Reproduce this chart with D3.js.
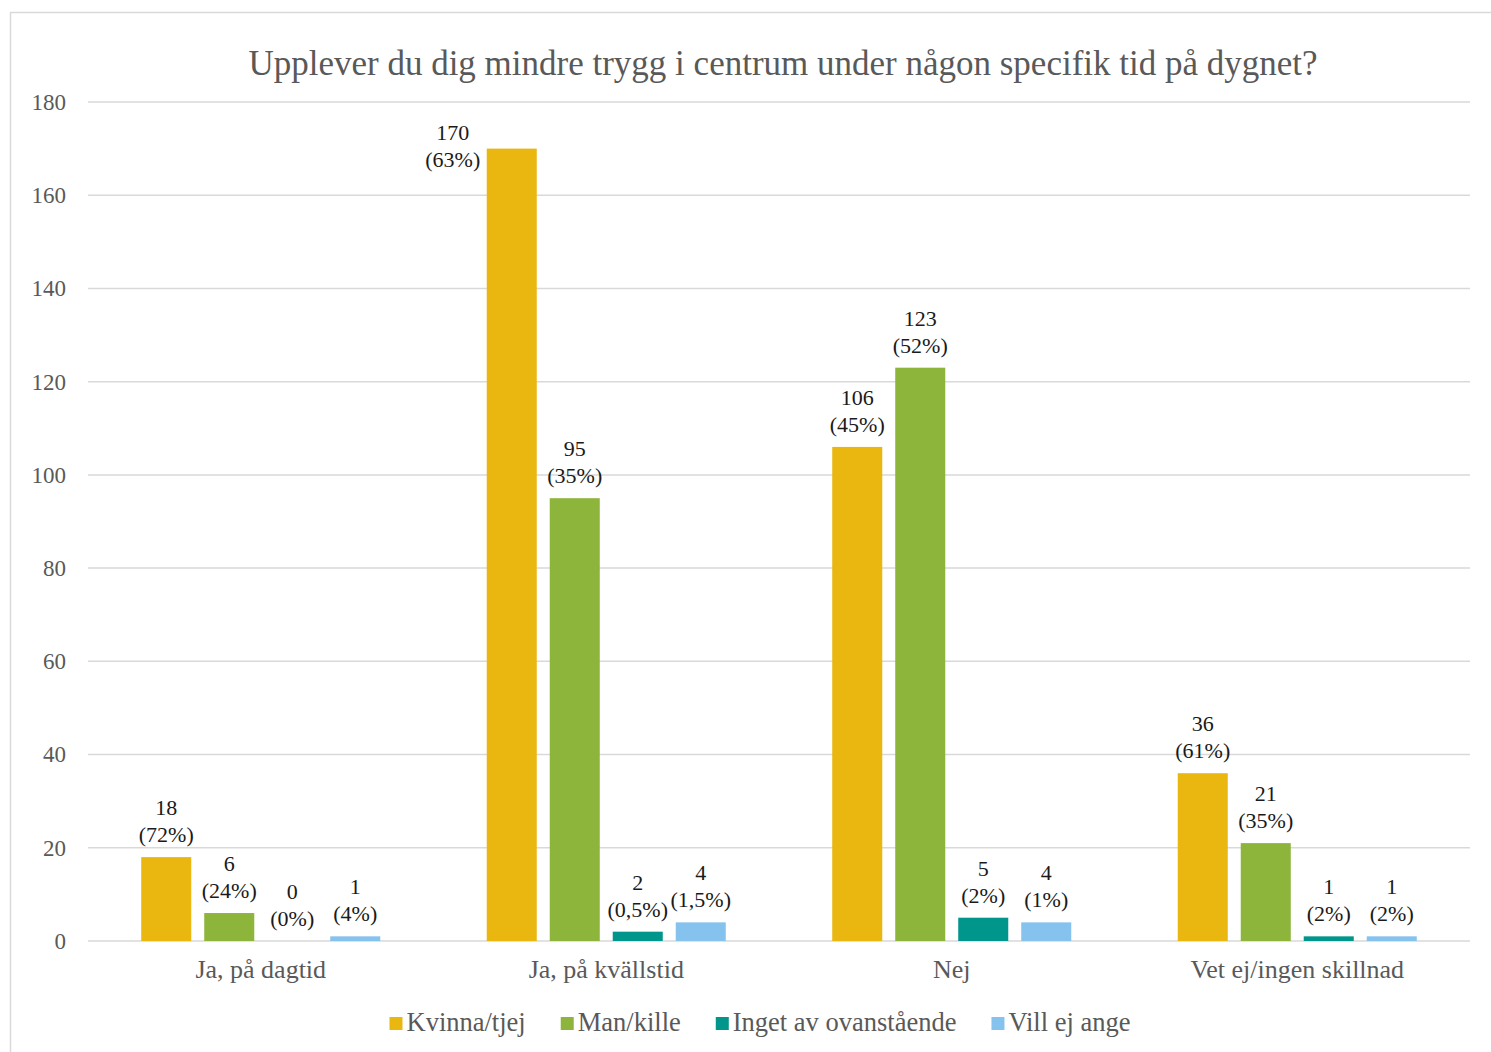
<!DOCTYPE html>
<html>
<head>
<meta charset="utf-8">
<script src="https://d3js.org/d3.v7.min.js"></script>
<style>
  body { margin: 0; background: #fff; }
  svg { display: block; }
  text { font-family: "Liberation Serif", "DejaVu Serif", serif; }
</style>
</head>
<body>
<svg id="chart"></svg>
<script>
// data
const categories = ["Ja, på dagtid", "Ja, på kvällstid", "Nej", "Vet ej/ingen skillnad"];
const seriesNames = ["Kvinna/tjej", "Man/kille", "Inget av ovanstående", "Vill ej ange"];
const kvinna = [18, 170, 106, 36];
const man = [6, 95, 123, 21];
const inget = [0, 2, 5, 1];
const villEj = [1, 4, 4, 1];
const kvinnaPct = ["72%", "63%", "45%", "61%"];
const manPct = ["24%", "35%", "52%", "35%"];
const ingetPct = ["0%", "0,5%", "2%", "2%"];
const villEjPct = ["4%", "1,5%", "1%", "2%"];
const yTicks = [0, 20, 40, 60, 80, 100, 120, 140, 160, 180];
const colors = ["#EAB711", "#8EB53B", "#01968C", "#86C2EE"];

const values = [kvinna, man, inget, villEj];
const pcts = [kvinnaPct, manPct, ingetPct, villEjPct];

const W = 1491, H = 1052;
const margin = {top: 102, right: 21, bottom: 111, left: 88};
const svg = d3.select("#chart").attr("width", W).attr("height", H);

// frame
svg.append("rect")
  .attr("x", 10.5).attr("y", 12.5)
  .attr("width", 1500).attr("height", 1100)
  .attr("fill", "#fff").attr("stroke", "#d9d9d9").attr("stroke-width", 1.5);

const x0 = d3.scaleBand().domain(categories).range([margin.left, W - margin.right]).padding(0);
const x1 = d3.scaleBand().domain(seriesNames).range([0, x0.bandwidth()])
  .paddingInner(0.206).paddingOuter(0.845);
const y = d3.scaleLinear().domain([0, 180]).range([H - margin.bottom, margin.top]);

// gridlines
svg.append("g").selectAll("line").data(yTicks).join("line")
  .attr("x1", margin.left).attr("x2", W - margin.right)
  .attr("y1", d => y(d)).attr("y2", d => y(d))
  .attr("stroke", "#d9d9d9").attr("stroke-width", 1.5);

// y axis labels
const yAxis = d3.axisLeft(y).tickValues(yTicks).tickSize(0).tickPadding(22);
svg.append("g").attr("transform", `translate(${margin.left},0)`).call(yAxis)
  .call(g => g.select(".domain").remove())
  .selectAll("text")
  .attr("font-family", "Liberation Serif, serif")
  .attr("font-size", 23).attr("fill", "#595959");

// x axis labels
const xAxis = d3.axisBottom(x0).tickSize(0).tickPadding(19);
svg.append("g").attr("transform", `translate(0,${y(0)})`).call(xAxis)
  .call(g => g.select(".domain").remove())
  .selectAll("text")
  .attr("font-family", "Liberation Serif, serif")
  .attr("font-size", 26).attr("fill", "#595959");

// bars
const groups = svg.append("g").selectAll("g").data(categories).join("g")
  .attr("transform", d => `translate(${x0(d)},0)`);

const rows = (c, ci) => seriesNames.map((s, si) => ({s, si, ci, v: values[si][ci], p: pcts[si][ci]}));

groups.selectAll("rect").data(rows).join("rect")
  .attr("x", d => x1(d.s))
  .attr("width", x1.bandwidth())
  .attr("y", d => y(d.v))
  .attr("height", d => y(0) - y(d.v))
  .attr("fill", d => colors[d.si]);

// data labels
const lab = groups.selectAll("text.lab").data(rows).join("text")
  .attr("class", "lab")
  .attr("text-anchor", "middle")
  .attr("font-size", 22)
  .attr("fill", "#1a1a1a")
  .attr("transform", d => {
    let cx = x1(d.s) + x1.bandwidth() / 2;
    let base = y(d.v) - 15;
    if (y(d.v) - 60 < margin.top) { // no room above: put label beside the bar
      cx = x1(d.s) - 34;
      base = y(d.v) + 18;
    }
    return `translate(${cx},${base})`;
  });
lab.append("tspan").attr("x", 0).attr("y", -27).text(d => d.v);
lab.append("tspan").attr("x", 0).attr("y", 0).text(d => `(${d.p})`);

// title
svg.append("text")
  .attr("x", 783).attr("y", 75)
  .attr("text-anchor", "middle")
  .attr("font-size", 35).attr("fill", "#595959")
  .text("Upplever du dig mindre trygg i centrum under någon specifik tid på dygnet?");

// legend
const legend = svg.append("g");
const items = legend.selectAll("g").data(seriesNames).join("g");
items.append("rect").attr("width", 13).attr("height", 13).attr("y", -14)
  .attr("fill", (d, i) => colors[i]);
items.append("text").attr("x", 17).attr("y", 0)
  .attr("font-size", 26.5).attr("fill", "#595959").text(d => d);
let off = 0;
items.each(function() {
  const g = d3.select(this);
  g.attr("transform", `translate(${off},0)`);
  off += 17 + g.select("text").node().getComputedTextLength() + 35;
});
const total = off - 35;
legend.attr("transform", `translate(${760 - total / 2},1031)`);
</script>
</body>
</html>
